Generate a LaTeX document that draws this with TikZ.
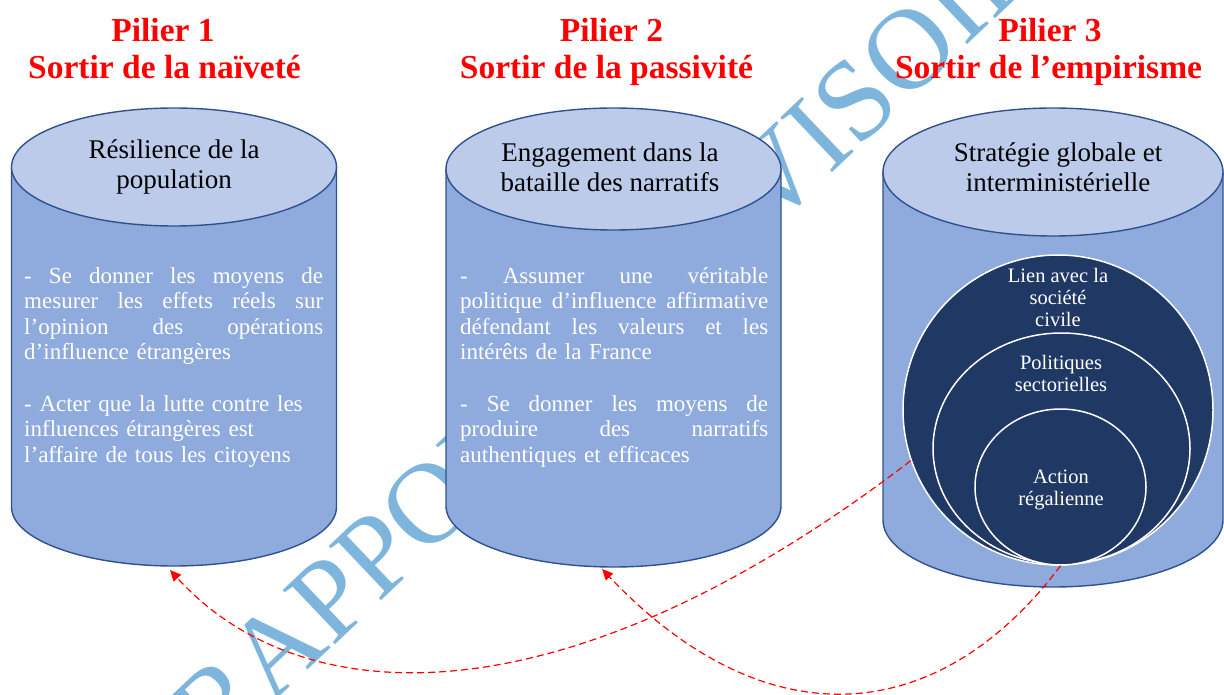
\documentclass[tikz,border=0pt]{standalone}
\usepackage{fontspec}
\setmainfont{Liberation Serif}
\usetikzlibrary{positioning,arrows.meta,shapes.geometric}
\definecolor{corpsbleu}{RGB}{143,170,220}
\definecolor{dessusbleu}{RGB}{187,203,233}
\definecolor{bordbleu}{RGB}{47,82,143}
\definecolor{marine}{RGB}{32,56,100}
\definecolor{filibleu}{RGB}{126,181,221}
% ligne justifiee de largeur donnee
\newcommand{\ligne}[2][299pt]{\makebox[#1][s]{\spaceskip=0pt\xspaceskip=0pt #2}}
\tikzset{
    corps/.style = {
        fill=corpsbleu,
        draw=bordbleu,
        line width=1.4pt
    },
    dessus/.style = {
        fill=dessusbleu,
        draw=bordbleu,
        line width=1.4pt
    },
    titre/.style = {
        text=red,
        font=\bfseries\fontsize{33.5}{37}\selectfont,
        anchor=base,
        inner sep=0
    },
    etiquette/.style = {
        align=center,
        font=\fontsize{27}{30}\selectfont,
        inner sep=0
    },
    texte/.style = {
        anchor=north west,
        inner sep=0,
        align=left,
        text=white,
        font=\fontsize{23}{25.6}\selectfont
    },
    cercle/.style = {
        fill=marine,
        draw=white,
        line width=1.5pt,
        inner sep=0
    },
    petit/.style = {
        align=center,
        text=white,
        font=\fontsize{20.5}{22}\selectfont,
        inner sep=0
    },
    fleche/.style = {
        draw=red,
        dash pattern=on 7pt off 4pt,
        line width=1.2pt,
        -{Triangle[length=11pt,width=10pt]}
    },
    filigrane/.style = {
        text=filibleu,
        font=\fontsize{115}{115}\selectfont,
        inner sep=0
    },
}

\begin{document}
\begin{tikzpicture}[x=1pt,y=1pt]
    \useasboundingbox (0,0) rectangle (1224,-695);
    \clip (0,0) rectangle (1224,-695);

    % filigrane
    \node[filigrane, rotate=43.5] (filig) at (632,-312) {RAPPORT PROVISOIRE};

    % cylindres
    \path[corps] (11.5,-167) -- (11.5,-507) arc[start angle=180, end angle=360, x radius=162.5, y radius=59] -- (336.5,-167) -- cycle;
    \path[dessus] (174,-167) ellipse[x radius=162.5, y radius=59];
    \path[corps] (446,-169) -- (446,-506) arc[start angle=180, end angle=360, x radius=167.5, y radius=61] -- (781,-169) -- cycle;
    \path[dessus] (613.5,-169) ellipse[x radius=167.5, y radius=61];
    \path[corps] (883,-172) -- (883,-520) arc[start angle=180, end angle=360, x radius=170, y radius=67] -- (1223,-172) -- cycle;
    \path[dessus] (1053,-172) ellipse[x radius=170, y radius=64];

    \coordinate (bas1) at (170,-570);
    \coordinate (bas2) at (602,-569);

    % titres
    \node[titre] (pilier1) at (163,-42) {Pilier 1};
    \node[titre] (sortir1) at (164.5,-79) {Sortir de la naïveté};
    \node[titre] (pilier2) at (611.5,-42) {Pilier 2};
    \node[titre] (sortir2) at (606.5,-79) {Sortir de la passivité};
    \node[titre] (pilier3) at (1050,-42) {Pilier 3};
    \node[titre] (sortir3) at (1048.5,-79) {Sortir de l’empirisme};

    \node[etiquette] (resilience) at (174,-167) {Résilience de la\\population};
    \node[etiquette] (engagement) at (610,-167) {Engagement dans la\\bataille des narratifs};
    \node[etiquette] (strategie) at (1058,-167) {Stratégie globale et\\interministérielle};

    \node[texte, text width=299pt] (texte1) at (24,-267) {\ligne{- Se donner les moyens de}\\
        \ligne{mesurer les effets réels sur}\\
        \ligne{l’opinion des opérations}\\
        d’influence étrangères\\[25.6pt]
        - Acter que la lutte contre les\\
        influences étrangères est\\
        l’affaire de tous les citoyens};
    \node[texte, text width=308pt] (texte2) at (460,-267) {\ligne[308pt]{- Assumer une véritable}\\
        \ligne[308pt]{politique d’influence affirmative}\\
        \ligne[308pt]{défendant les valeurs et les}\\
        intérêts de la France\\[25.6pt]
        \ligne[308pt]{- Se donner les moyens de}\\
        \ligne[308pt]{produire des narratifs}\\
        authentiques et efficaces};

    % cercles
    \node[cercle, circle, minimum size=310pt] (lien) at (1058,-410) {};
    \node[cercle, ellipse, minimum width=257pt, minimum height=231pt] (politiques) at (1061.5,-448.5) {};
    \node[cercle, ellipse, minimum width=171pt, minimum height=156pt] (action) at (1060.5,-487) {};
    \node[petit] (lientxt) at (1058,-297) {Lien avec la\\société\\civile};
    \node[petit] (polititxt) at (1061,-373) {Politiques\\sectorielles};
    \node[petit] (actiontxt) at (1061,-490) {Action\\régalienne};

    % fleches
    \path[fleche] (lien.199) .. controls +(-346,-265) and +(132,-145) .. (bas1);
    \path[fleche] (action.south) .. controls +(-120,-160) and +(166,-175) .. (bas2);
\end{tikzpicture}
\end{document}
